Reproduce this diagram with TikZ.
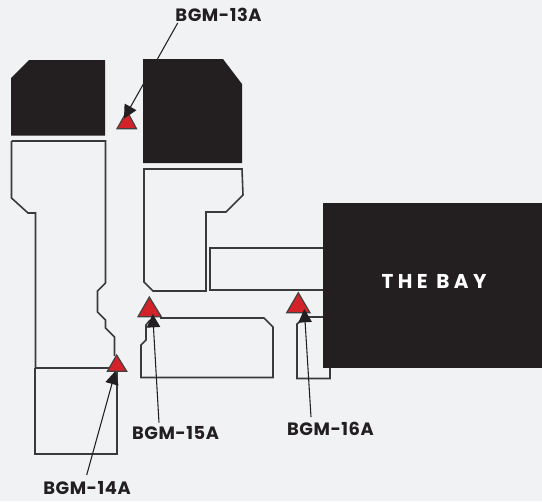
\documentclass[tikz,border=0pt]{standalone}
\usepackage{fontspec}
\setmainfont{Poppins}[BoldFont={Poppins Bold}]
\usetikzlibrary{arrows.meta}
\definecolor{bgc}{HTML}{F0F2F4}
\definecolor{ink}{HTML}{231F20}
\definecolor{redc}{HTML}{D2232A}
\definecolor{linec}{HTML}{3A3A3C}
\tikzset{
 outline/.style={draw=linec,line width=1.2pt,line join=miter},
 block/.style={fill=ink,draw=none},
 marker/.style={fill=redc,draw=ink!85,line width=0.9pt,line join=miter},
 lbl/.style={text=ink,font=\bfseries\fontsize{13.4}{15}\selectfont,inner sep=0pt,anchor=center},
 pointer/.style={draw=ink,line width=0.8pt,-{Triangle[length=10pt,width=10pt]},shorten >=0pt},
}
\begin{document}
\begin{tikzpicture}[x=0.75pt,y=-0.75pt]
\useasboundingbox (0,0) rectangle (542,501);
\fill[bgc] (0,0) rectangle (542,501);
% outlines
\draw[outline] (11.5,141)--(105.5,141)--(105.5,283)--(97.5,291)--(97.5,312)--(105.5,320)--(105.5,328)--(114.5,337)--(114.5,356);
\draw[outline] (11.5,141)--(11.5,198)--(28,213)--(35.5,213)--(35.5,368);
\draw[outline] (35,368)--(110,368);
\draw[outline] (116.9,372)--(116.9,453.9)--(34.9,453.9)--(34.9,368);
\draw[outline] (144,169)--(242,169)--(243,195)--(226,212)--(206,212)--(206,291)--(153,291)--(144,282)--cycle;
\draw[outline] (323,248)--(210,248)--(210,290)--(323,290);
\draw[outline] (160,318)--(264,318)--(273,327)--(273,377.5)--(141,377.5)--(141,345)--(146,340)--(146,325)--(150,320);
\draw[outline] (323,317)--(305,317)--(297,324)--(297,378.5)--(330,378.5)--(330,366);
% black blocks
\fill[block] (11,78)--(29,60)--(105,60)--(105,135.5)--(11,135.5)--cycle;
\path[block] (143,59)--(223,59)--(242,84)--(242,163)--(143,163)--cycle;
\node[block,minimum width=164.25pt,minimum height=123.75pt,inner sep=0pt] (bay) at (432.5,285.5) {};
\node[inner sep=0pt,text=white,font=\bfseries\fontsize{15}{17}\selectfont] (baytext) at (434,281.7) {\addfontfeature{LetterSpace=22}THE BAY};
% markers
\draw[marker] (127,111)--(136.5,128.7)--(117,128.7)--cycle;
\draw[marker] (116.7,355)--(126.7,371.3)--(107.3,371.3)--cycle;
\draw[marker] (149.3,297)--(161.3,316.7)--(138,316.7)--cycle;
\draw[marker] (298.3,292.7)--(310,312.7)--(286.7,312.7)--cycle;
% labels
\node[lbl] (l13) at (218.5,15) {\addfontfeature{LetterSpace=3}BGM-13A};
\node[lbl] (l14) at (87,488) {\addfontfeature{LetterSpace=3}BGM-14A};
\node[lbl] (l15) at (175.5,433.5) {\addfontfeature{LetterSpace=3}BGM-15A};
\node[lbl] (l16) at (330.5,429) {\addfontfeature{LetterSpace=3}BGM-16A};
% pointer ends
\coordinate (s13) at (177.7,23);
\coordinate (t13) at (124,118.5);
\coordinate (s14) at (86.7,475);
\coordinate (t14) at (115.5,371);
\coordinate (s15) at (159,422.7);
\coordinate (t15) at (152.7,314);
\coordinate (s16) at (311,417);
\coordinate (t16) at (304.3,309);
\draw[pointer] (s13)--(t13);
\draw[pointer] (s14)--(t14);
\draw[pointer] (s15)--(t15);
\draw[pointer] (s16)--(t16);
\end{tikzpicture}
\end{document}
